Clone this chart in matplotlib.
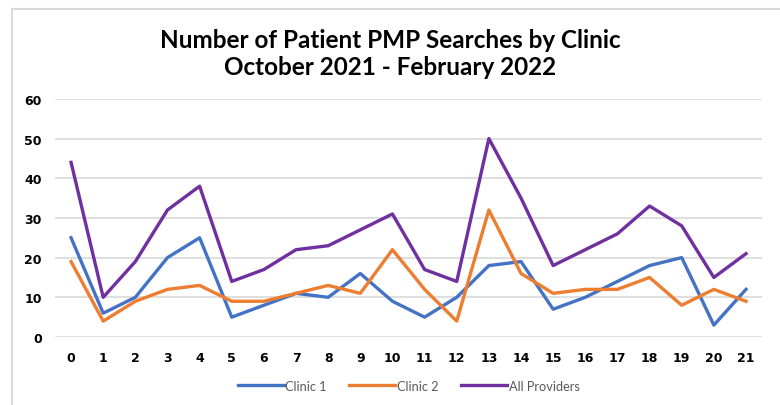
import matplotlib
matplotlib.use('Agg')
import matplotlib.pyplot as plt
from matplotlib.lines import Line2D

plt.rcParams['font.family'] = ['Lato', 'DejaVu Sans']

x = list(range(22))
clinic1 = [25, 6, 10, 20, 25, 5, 8, 11, 10, 16, 9, 5, 10, 18, 19, 7, 10, 14, 18, 20, 3, 12]
clinic2 = [19, 4, 9, 12, 13, 9, 9, 11, 13, 11, 22, 12, 4, 32, 16, 11, 12, 12, 15, 8, 12, 9]
all_providers = [44, 10, 19, 32, 38, 14, 17, 22, 23, 27, 31, 17, 14, 50, 35, 18, 22, 26, 33, 28, 15, 21]

fig = plt.figure(figsize=(7.8, 4.06), dpi=100)
ax = fig.add_axes([0.0705, 0.1675, 0.9065, 0.5865])

ax.plot(x, clinic1, color='#4472C4', lw=2.4, label='Clinic 1')
ax.plot(x, clinic2, color='#ED7D31', lw=2.4, label='Clinic 2')
ax.plot(x, all_providers, color='#7030A0', lw=2.4, label='All Providers')

ax.set_xlim(-0.5, 21.5)
ax.set_ylim(0, 60)
ax.set_yticks(range(0, 61, 10))
ax.set_xticks(x)
ax.grid(axis='y', color='#d9d9d9', lw=1.2)
ax.set_axisbelow(True)
for s in ax.spines.values():
    s.set_visible(False)
ax.tick_params(length=0, labelsize=9, pad=10)
for lbl in ax.get_xticklabels() + ax.get_yticklabels():
    lbl.set_fontweight('bold')
    lbl.set_family('DejaVu Sans')
ax.tick_params(axis='y', pad=9.5)

fig.text(0.5, 0.867, 'Number of Patient PMP Searches by Clinic\nOctober 2021 - February 2022',
         ha='center', va='center', fontsize=17.5, fontweight='bold', linespacing=1.25)

ax.legend(loc='center', bbox_to_anchor=(0.5, -0.205), ncol=3, frameon=False,
          fontsize=9.2, labelcolor='#595959', handlelength=3.6, handletextpad=0.1,
          columnspacing=1.8)

# chart frame (only top and left edges are visible in the crop)
fig.add_artist(Line2D([12 / 780, 1], [1 - 10 / 406] * 2, transform=fig.transFigure,
                      color='#d9d9d9', lw=1.5))
fig.add_artist(Line2D([12 / 780] * 2, [0, 1 - 10 / 406], transform=fig.transFigure,
                      color='#d9d9d9', lw=1.5))

fig.savefig('out.png', dpi=100)
